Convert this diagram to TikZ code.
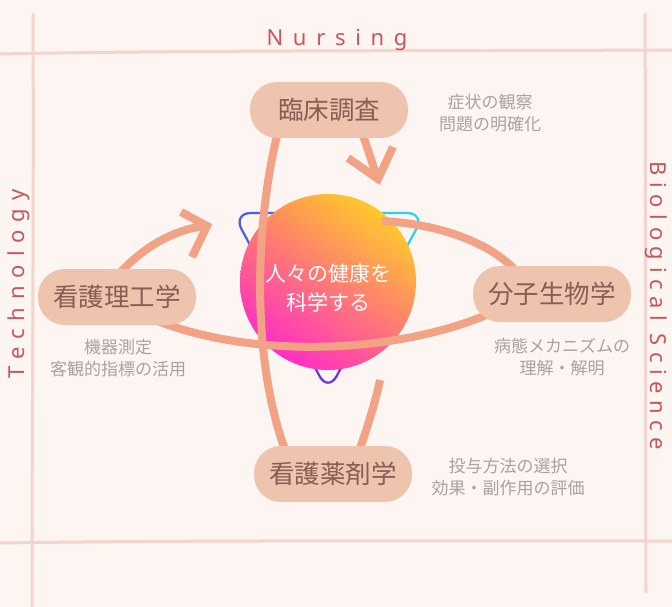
\documentclass[tikz,border=0pt]{standalone}
\usepackage{fontspec}
\setmainfont{Noto Sans CJK JP}
\newfontfamily\latinf{Noto Sans}
\usetikzlibrary{shadings}
\definecolor{bgc}{HTML}{FDF5F2}
\definecolor{framec}{HTML}{F3D5CE}
\definecolor{orangec}{HTML}{F2A385}
\definecolor{boxc}{HTML}{EEC4AF}
\definecolor{boxtext}{HTML}{8C5B55}
\definecolor{subc}{HTML}{A9A2A4}
\definecolor{redc}{HTML}{C8565C}
\definecolor{triblue}{HTML}{4A5CEA}
\definecolor{tricyan}{HTML}{2AD2F2}
\definecolor{tripurple}{HTML}{6E32E0}
\definecolor{gyellow}{HTML}{FFEA10}
\definecolor{gorange}{HTML}{FF8A5A}
\definecolor{gmagenta}{HTML}{FF10E8}
\tikzset{
  framel/.style={draw=framec, line width=3pt, line cap=round},
  axis label/.style={font=\latinf\fontsize{22}{22}\selectfont, text=redc},
  stepbox/.style={fill=boxc, rounded corners=27pt, minimum width=158pt, minimum height=56pt,
    text=boxtext, font=\fontsize{25.5}{25.5}\selectfont, inner sep=0pt},
  sublabel/.style={text=subc, align=center, font=\fontsize{17}{22}\selectfont},
  orb/.style={draw=orangec, line width=8pt, line cap=butt, line join=miter},
}
\begin{document}
\begin{tikzpicture}[x=1pt,y=-1pt]
\useasboundingbox (0,0) rectangle (672,607);
\fill[bgc] (0,0) rectangle (672,607);
% frame
\draw[framel] (0,54) .. controls (200,50) and (450,51) .. (672,50);
\draw[framel] (0,543) .. controls (200,540) and (450,541) .. (672,541);
\draw[framel] (33,14) .. controls (34,200) and (32,400) .. (32,607);
\draw[framel] (645,14) .. controls (646,200) and (645,400) .. (646,592);
% axis labels
\node[axis label] (nurs) at (337,40) {\addfontfeature{LetterSpace=44}Nursing};
\node[axis label, rotate=90] (tech) at (19,284) {\addfontfeature{LetterSpace=36}Technology};
\node[axis label, rotate=-90] (bio) at (656,306) {\addfontfeature{LetterSpace=30}Biological Science};
% triangle outline behind circle
\def\tripath{(330,213) -- (233,213) -- (328,392) -- (425,213) -- cycle}
\foreach \i in {0,...,20}{
  \pgfmathsetmacro{\xa}{220+\i*10}
  \pgfmathsetmacro{\pc}{min(100,max(0,(\i-4)*100/12))}
  \begin{scope}
    \clip (\xa,150) rectangle ({\xa+10.5},350);
    \draw[tricyan!\pc!triblue, line width=2.2pt, rounded corners=18pt] \tripath;
  \end{scope}
}
\begin{scope}
  \clip (200,350) rectangle (460,420);
  \draw[tripurple, line width=2.2pt, rounded corners=18pt] \tripath;
\end{scope}
% central circle
\shade[upper right=gyellow, upper left=gorange, lower right=gorange!70!gmagenta, lower left=gmagenta]
  (328,282) circle[radius=88pt];
% orbits
\draw[orb] (279,128) .. controls (255,220) and (250,360) .. (287,455);
\draw[orb] (380,380) .. controls (376,400) and (368,425) .. (358,455);
\draw[orb] (362,132) -- (377,177);
\draw[orb] (348,158) -- (378,179) -- (393,147);
\draw[orb] (150,318) .. controls (250,360) and (400,355) .. (498,310);
\draw[orb] (382,221) .. controls (440,224) and (490,243) .. (515,270);
\draw[orb] (118,275) .. controls (145,245) and (175,230) .. (204,226);
\draw[orb] (181,212) -- (207,226) -- (192,257);
% circle text
\node[text=white, align=center, font=\fontsize{21}{29}\selectfont] (core) at (328,288) {人々の健康を\\科学する};
% boxes
\node[stepbox] (clin) at (329,110) {臨床調査};
\node[stepbox] (eng) at (117,297) {看護理工学};
\node[stepbox] (mol) at (552,294) {分子生物学};
\node[stepbox] (pharm) at (333,474) {看護薬剤学};
% sublabels
\node[sublabel] (clinsub) at (490,113) {症状の観察\\問題の明確化};
\node[sublabel] (engsub) at (118,358) {機器測定\\客観的指標の活用};
\node[sublabel] (molsub) at (562,357) {病態メカニズムの\\理解・解明};
\node[sublabel] (pharmsub) at (508,477) {投与方法の選択\\効果・副作用の評価};
\end{tikzpicture}
\end{document}
